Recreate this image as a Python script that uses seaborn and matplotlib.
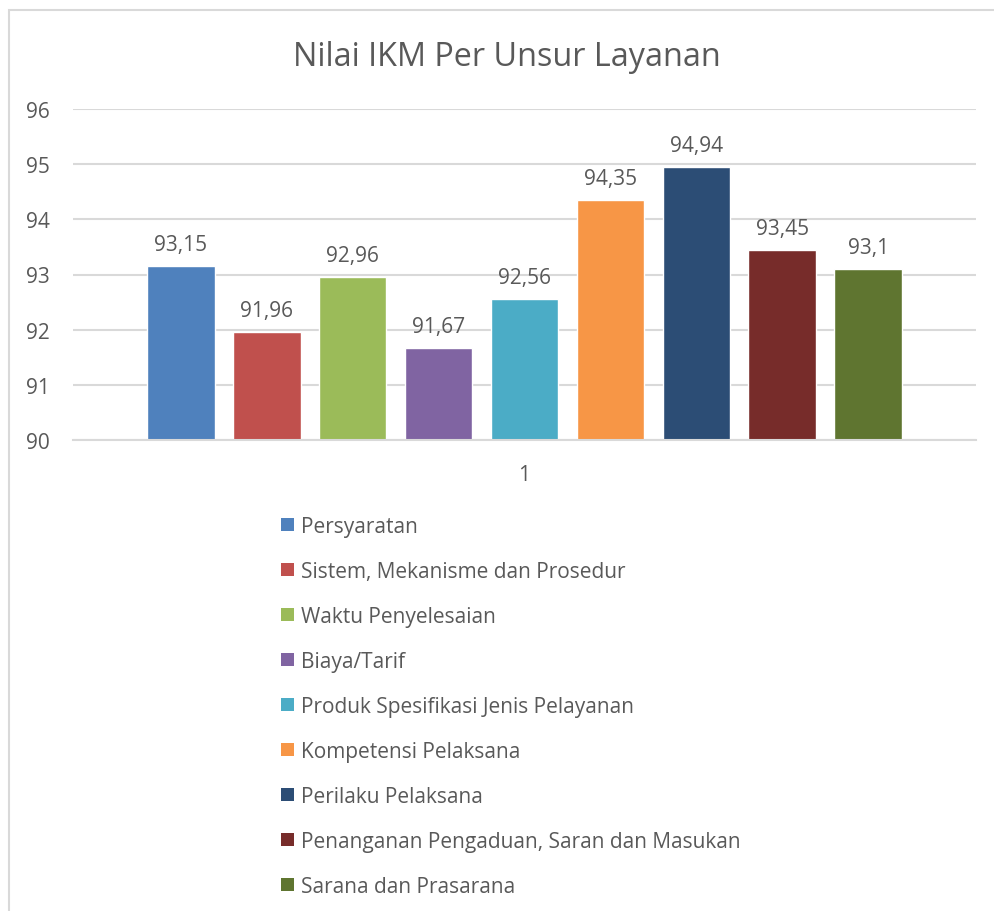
import matplotlib
matplotlib.use("Agg")
import matplotlib.pyplot as plt
import seaborn as sns
import pandas as pd
from matplotlib.patches import Rectangle

categories = ["1"]
series = [
    "Persyaratan",
    "Sistem, Mekanisme dan Prosedur",
    "Waktu Penyelesaian",
    "Biaya/Tarif",
    "Produk Spesifikasi Jenis Pelayanan",
    "Kompetensi Pelaksana",
    "Perilaku Pelaksana",
    "Penanganan Pengaduan, Saran dan Masukan",
    "Sarana dan Prasarana",
]
values = [93.15, 91.96, 92.96, 91.67, 92.56, 94.35, 94.94, 93.45, 93.1]
colors = ["#4F81BD", "#C0504D", "#9BBB59", "#8064A2", "#4BACC6",
          "#F79646", "#2C4D75", "#772C2A", "#5F7530"]
yticks = [90, 91, 92, 93, 94, 95, 96]
title = "Nilai IKM Per Unsur Layanan"

sns.set_theme(style="white")
plt.rcParams["font.family"] = ["Open Sans", "DejaVu Sans"]
TXT = "#595959"
GRID = "#D9D9D9"

df = pd.DataFrame({"cat": categories * len(series), "series": series, "value": values})

W, H = 995, 912
fig = plt.figure(figsize=(W / 100, H / 100), dpi=100)
ax = fig.add_axes([73 / W, 1 - 441 / H, (976 - 73) / W, (441 - 110) / H])

sns.barplot(data=df, x="cat", y="value", hue="series", hue_order=series,
            palette=colors, width=0.857, gap=0.21, ax=ax, legend=False,
            saturation=1, errorbar=None)

ax.set_ylim(90, 96)
ax.set_xlim(-0.5, 0.5)
ax.set_yticks(yticks)
ax.set_yticklabels([str(t) for t in yticks])
ax.yaxis.grid(True, color=GRID, linewidth=1.5)
ax.set_axisbelow(True)
for s in ["top", "right", "left"]:
    ax.spines[s].set_visible(False)
ax.spines["bottom"].set_color(GRID)
ax.spines["bottom"].set_linewidth(1.5)
ax.tick_params(axis="both", length=0, labelsize=15, colors=TXT)
ax.tick_params(axis="y", pad=17)
ax.tick_params(axis="x", pad=17)
ax.set_xlabel("")
ax.set_ylabel("")

for cont, v in zip(ax.containers, values):
    lab = f"{v:g}".replace(".", ",")
    ax.bar_label(cont, labels=[lab], padding=8, fontsize=15, color=TXT)

fig.text(507 / W, 1 - 58 / H, title, ha="center", va="center", fontsize=23.3, color=TXT)

handles = [Rectangle((0, 0), 1, 1, facecolor=c, edgecolor="none") for c in colors]
fig.legend(handles, series, loc="upper left", bbox_to_anchor=(281 / W, 1 - 517 / H),
           frameon=False, fontsize=15, labelcolor=TXT, handlelength=0.6,
           handleheight=0.6, handletextpad=0.35, labelspacing=1.15, borderpad=0,
           borderaxespad=0)

fig.patches.append(Rectangle((9 / W, -0.1), 1.2, 1 - 11 / H + 0.1, transform=fig.transFigure,
                             fill=False, edgecolor=GRID, linewidth=1.5))

fig.savefig("out.png", dpi=100, facecolor="white")
